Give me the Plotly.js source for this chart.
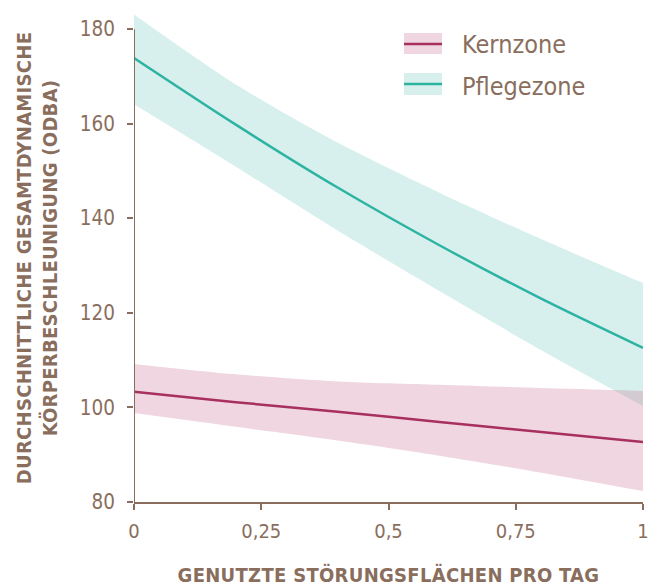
<!DOCTYPE html>
<html>
<head>
<meta charset="utf-8">
<script src="https://cdn.plot.ly/plotly-3.0.1.min.js"></script>
<style>
  body { margin: 0; background: #ffffff; }
  #chart { width: 649px; height: 587px; }
  .xtitle, .ytitle { letter-spacing: 0.3px; }
</style>
</head>
<body>
<div id="chart"></div>
<script>
// Data
var xValues = [0, 0.2, 0.4, 0.6, 0.8, 1];

var kernMean  = [103.3, 101.1, 99.1, 96.9, 94.8, 92.7];
var kernUpper = [109.2, 107.0, 105.5, 104.8, 104.1, 103.5];
var kernLower = [98.8, 95.9, 93.0, 89.8, 86.2, 82.3];

var pflegeMean  = [173.9, 159.8, 146.5, 134.3, 123.0, 112.6];
var pflegeUpper = [183.1, 168.3, 156.0, 145.4, 135.6, 126.3];
var pflegeLower = [164.1, 150.9, 137.4, 124.6, 112.1, 100.3];

var seriesNames = ["Kernzone", "Pflegezone"];

var xTickVals = [0, 0.25, 0.5, 0.75, 1];
var xTickText = ["0", "0,25", "0,5", "0,75", "1"];
var yTickVals = [80, 100, 120, 140, 160, 180];

var xTitle = "GENUTZTE STÖRUNGSFLÄCHEN PRO TAG";
var yTitle = "DURCHSCHNITTLICHE GESAMTDYNAMISCHE<br>KÖRPERBESCHLEUNIGUNG (ODBA)";

// Styles
var brown = "#8a6e5d";
var kernLine = "#a8305f";
var kernFill = "rgba(190,90,130,0.25)";
var pflegeLine = "#2db3a2";
var pflegeFill = "rgba(60,180,165,0.2)";
var fontFam = "'DejaVu Sans Condensed', 'DejaVu Sans', sans-serif";

function band(lower, upper, fill) {
  return [
    {x: xValues, y: lower, type: "scatter", mode: "lines",
     line: {width: 0, color: "rgba(0,0,0,0)", shape: "spline", smoothing: 0.8},
     showlegend: false, hoverinfo: "skip"},
    {x: xValues, y: upper, type: "scatter", mode: "lines",
     line: {width: 0, color: "rgba(0,0,0,0)", shape: "spline", smoothing: 0.8},
     fill: "tonexty", fillcolor: fill, showlegend: false, hoverinfo: "skip"}
  ];
}

var traces = []
  .concat(band(pflegeLower, pflegeUpper, pflegeFill))
  .concat(band(kernLower, kernUpper, kernFill))
  .concat([
    {x: xValues, y: pflegeMean, type: "scatter", mode: "lines", name: seriesNames[1],
     line: {color: pflegeLine, width: 2.5, shape: "spline", smoothing: 0.8}, showlegend: false},
    {x: xValues, y: kernMean, type: "scatter", mode: "lines", name: seriesNames[0],
     line: {color: kernLine, width: 2.5, shape: "spline", smoothing: 0.8}, showlegend: false}
  ]);

function px2x(p) { return (p - 134) / 509; }
function px2y(p) { return (502 - p) / 488; }

var shapes = [
  // y axis line from 80 to 180
  {type: "line", xref: "x", yref: "y", x0: 0, x1: 0, y0: 80, y1: 180,
   line: {color: brown, width: 2}},
  // legend swatches
  {type: "rect", xref: "paper", yref: "paper", x0: px2x(404), x1: px2x(442), y0: px2y(54), y1: px2y(33),
   fillcolor: kernFill, line: {width: 0}},
  {type: "line", xref: "paper", yref: "paper", x0: px2x(404), x1: px2x(442), y0: px2y(44), y1: px2y(44),
   line: {color: kernLine, width: 2.5}},
  {type: "rect", xref: "paper", yref: "paper", x0: px2x(404), x1: px2x(442), y0: px2y(95), y1: px2y(73),
   fillcolor: pflegeFill, line: {width: 0}},
  {type: "line", xref: "paper", yref: "paper", x0: px2x(404), x1: px2x(442), y0: px2y(84), y1: px2y(84),
   line: {color: pflegeLine, width: 2.5}}
];

var annotations = [
  {xref: "paper", yref: "paper", x: px2x(460), y: px2y(45), xanchor: "left", yanchor: "middle",
   text: seriesNames[0], showarrow: false, font: {family: fontFam, size: 25, color: brown}},
  {xref: "paper", yref: "paper", x: px2x(460), y: px2y(86), xanchor: "left", yanchor: "middle",
   text: seriesNames[1], showarrow: false, font: {family: fontFam, size: 25, color: brown}}
];

var layout = {
  width: 649, height: 587,
  margin: {l: 134, r: 6, t: 14, b: 85},
  paper_bgcolor: "#ffffff", plot_bgcolor: "#ffffff",
  showlegend: false,
  font: {family: fontFam, color: brown},
  xaxis: {
    range: [0, 1], tickvals: xTickVals, ticktext: xTickText,
    showline: true, linecolor: brown, linewidth: 2,
    ticks: "outside", ticklen: 6, tickwidth: 2, tickcolor: brown,
    ticklabelstandoff: 4,
    showgrid: false, zeroline: false,
    tickfont: {family: fontFam, size: 20, color: brown},
    title: {text: xTitle, standoff: 30, font: {family: fontFam, size: 20, color: brown, weight: "bold"}},
    automargin: false
  },
  yaxis: {
    range: [80, 183.2], tickvals: yTickVals,
    showline: false,
    ticks: "outside", ticklen: 6, tickwidth: 2, tickcolor: brown,
    ticklabelstandoff: 8,
    showgrid: false, zeroline: false,
    tickfont: {family: fontFam, size: 20.5, color: brown},
    title: {text: yTitle, standoff: 16, font: {family: fontFam, size: 20, color: brown, weight: "bold"}},
    automargin: false
  },
  shapes: shapes,
  annotations: annotations
};

Plotly.newPlot("chart", traces, layout, {displayModeBar: false, staticPlot: true});
</script>
</body>
</html>
